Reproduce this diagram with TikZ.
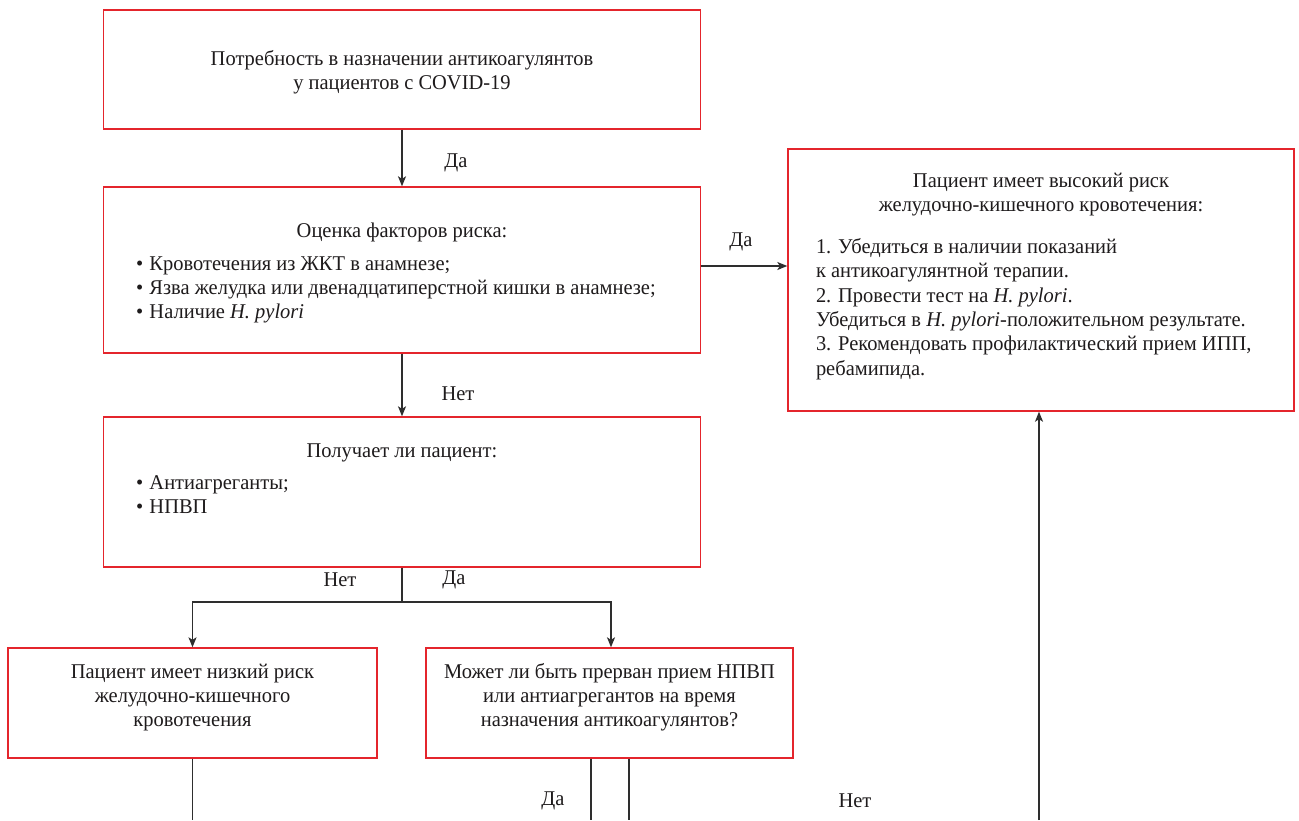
\documentclass[tikz,border=0pt]{standalone}
\usepackage{fontspec}
\setmainfont{Liberation Serif}
\newfontfamily\serfont{Liberation Serif}[FakeStretch=0.975]
\usetikzlibrary{arrows.meta}
\definecolor{boxred}{HTML}{E4252C}
\definecolor{linec}{HTML}{2E2E2E}
\definecolor{textc}{HTML}{1E1B1C}
\newcommand\fs{\serfont\fontsize{21}{24.3}\selectfont}
\newcommand\bul{\hspace*{12.5pt}\makebox[13.5pt][l]{\textbullet}}
\hyphenpenalty=10000
\exhyphenpenalty=10000
\begin{document}
\begin{tikzpicture}[x=1pt,y=-1pt,
  box/.style={draw=boxred, line width=1.4pt, fill=white, inner sep=0pt, text=textc, font=\fs},
  conn/.style={draw=linec, line width=1.2pt},
  arr/.style={conn, -{Stealth[length=10pt,width=8pt,inset=2.5pt]}},
  lbl/.style={font=\fs, text=textc, inner sep=0pt}]
\useasboundingbox (0,0) rectangle (1299,820);
\fill[white] (0,0) rectangle (1299,820);

% Box 1
\node[box, minimum width=597pt, minimum height=119pt] (b1) at (402,69.5)
  {\begin{minipage}[c][119pt][t]{560pt}\centering\vspace*{38pt}%
   \strut Потребность в назначении антикоагулянтов\\
   у пациентов с COVID-19\end{minipage}};

% Box 2
\node[box, minimum width=597pt, minimum height=166pt] (b2) at (402,270)
  {\begin{minipage}[c][166pt][t]{557pt}\vspace*{33pt}%
   {\centering\strut Оценка факторов риска:\par}\vspace{9pt}%
   \raggedright
   \bul Кровотечения из ЖКТ в анамнезе;\\
   \bul Язва желудка или двенадцатиперстной кишки в анамнезе;\\
   \bul Наличие \textit{H. pylori}\end{minipage}};

% Right box
\node[box, minimum width=506pt, minimum height=262pt] (rb) at (1041,280)
  {\begin{minipage}[c][262pt][t]{450pt}\vspace*{21pt}%
   {\centering\strut Пациент имеет высокий риск\\
   желудочно-кишечного кровотечения:\par}\vspace{18pt}%
   \raggedright
   1. Убедиться в наличии показаний\\
   к антикоагулянтной терапии.\\
   2. Провести тест на \textit{H. pylori}.\\
   Убедиться в \textit{H. pylori}-положительном результате.\\
   3. Рекомендовать профилактический прием ИПП,\\
   ребамипида.\end{minipage}};

% Box 3
\node[box, minimum width=597pt, minimum height=150pt] (b3) at (402,492)
  {\begin{minipage}[c][150pt][t]{557pt}\vspace*{23pt}%
   {\centering\strut Получает ли пациент:\par}\vspace{8pt}%
   \raggedright
   \bul Антиагреганты;\\
   \bul НПВП\end{minipage}};

% Box 4
\node[box, minimum width=369pt, minimum height=110pt] (b4) at (192.5,703)
  {\begin{minipage}[c][110pt][t]{340pt}\centering\vspace*{13pt}%
   \strut Пациент имеет низкий риск\\
   желудочно-кишечного\\
   кровотечения\end{minipage}};

% Box 5
\node[box, minimum width=367pt, minimum height=110pt] (b5) at (609.5,703)
  {\begin{minipage}[c][110pt][t]{340pt}\centering\vspace*{13pt}%
   \strut Может ли быть прерван прием НПВП\\
   или антиагрегантов на время\\
   назначения антикоагулянтов?\end{minipage}};

% coordinates
\coordinate (split) at (402,602);
\coordinate (e4) at (192.5,820);
\coordinate (e5a) at (591,820);
\coordinate (e5b) at (629,820);
\coordinate (erb) at (1039,820);

% connectors
\draw[arr] (b1.south) -- (b2.north);
\draw[arr] ([yshift=4pt]b2.east) -- ([yshift=4pt]b2.east -| rb.west);
\draw[arr] (b2.south) -- (b3.north);
\draw[conn] (b3.south) -- (split);
\draw[arr] (split) -| (b4.north);
\draw[arr] (split) -| ([xshift=1.5pt]b5.north);
\draw[conn] (b4.south) -- (e4);
\draw[conn] (e5a |- b5.south) -- (e5a);
\draw[conn] (e5b |- b5.south) -- (e5b);
\draw[arr] (erb) -- (erb |- rb.south);

% labels
\node[lbl] (l1) at (456,163) {Да};
\node[lbl] (l2) at (741,242) {Да};
\node[lbl] (l3) at (458,394) {Нет};
\node[lbl] (l4) at (340,580) {Нет};
\node[lbl] (l5) at (454,580) {Да};
\node[lbl] (l6) at (553,801) {Да};
\node[lbl] (l7) at (855,801) {Нет};
\end{tikzpicture}
\end{document}
